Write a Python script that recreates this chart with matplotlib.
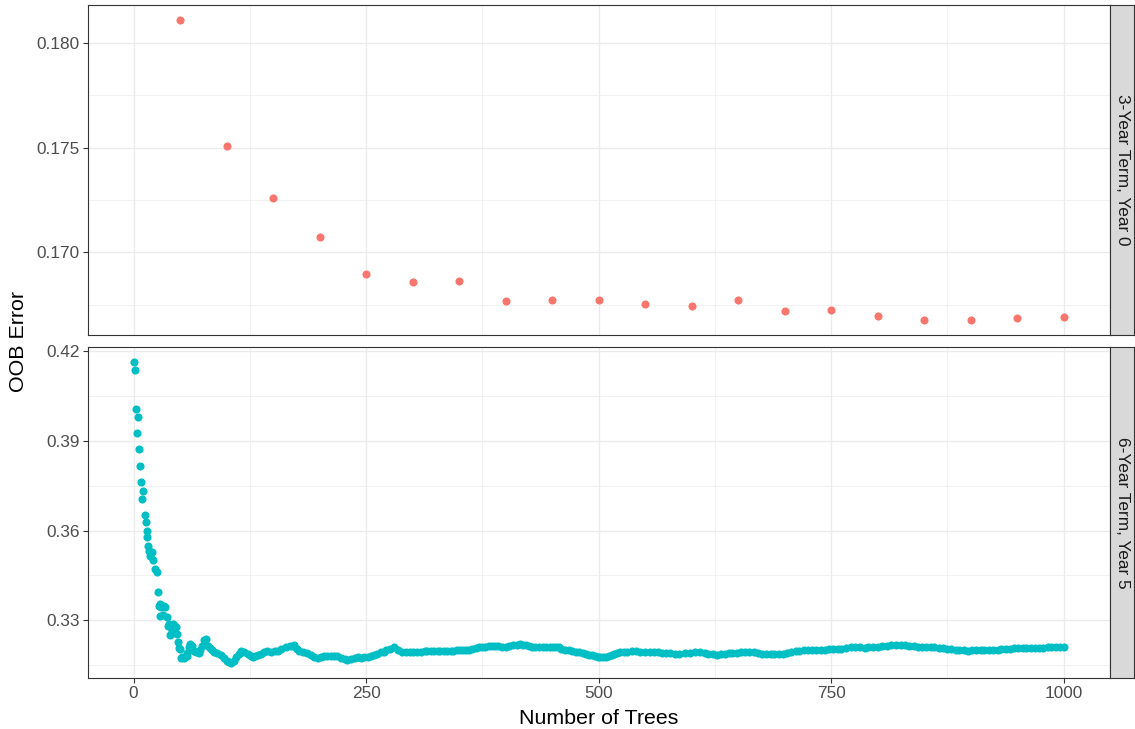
import numpy as np
import matplotlib
matplotlib.use("Agg")
import matplotlib.pyplot as plt
from matplotlib.ticker import FixedLocator, FormatStrFormatter

plt.rcParams["font.family"] = ["Liberation Sans", "DejaVu Sans"]

# OOB error, 3-year term model (every 50 trees)
trees_3yr = [50, 100, 150, 200, 250, 300, 350, 400, 450, 500,
             550, 600, 650, 700, 750, 800, 850, 900, 950, 1000]
err_3yr = [0.18110, 0.17510, 0.17257, 0.17071, 0.16895, 0.16857, 0.16862,
           0.16767, 0.16771, 0.16771, 0.16752, 0.16743, 0.16771, 0.16719,
           0.16724, 0.16695, 0.16676, 0.16676, 0.16686, 0.16690]

# OOB error, 6-year term model
trees_6yr = [1, 2, 3, 4, 5, 6, 7, 8, 9, 10, 12, 13, 14, 15, 16, 17, 18, 20,
             21, 23, 25, 26, 27, 28, 29, 30, 32, 33, 34, 36, 37, 38, 39, 40,
             41, 42, 43, 44, 46, 47, 48, 49, 50, 51, 52, 54, 57, 58, 60, 61,
             63, 65, 67, 69, 70, 72, 74, 76, 78, 80, 82, 84, 87, 90, 94, 97,
             100, 103, 105, 108, 110, 113, 116, 119, 123, 126, 128, 131, 134,
             137, 140, 144, 148, 152, 155, 159, 164, 168, 171, 173, 176, 178,
             182, 187, 191, 194, 198, 202, 205, 208, 212, 216, 219, 223, 227,
             230, 234, 238, 241, 245, 248, 252, 255, 259, 262, 266, 269, 272,
             276, 280, 284, 289, 293, 297, 301, 305, 309, 313, 316, 320, 323,
             327, 330, 334, 337, 341, 344, 348, 351, 354, 357, 361, 364, 368,
             371, 375, 378, 382, 385, 389, 392, 396, 400, 404, 408, 412, 416,
             419, 422, 425, 428, 432, 436, 440, 443, 448, 451, 454, 457, 460,
             464, 468, 472, 476, 479, 483, 486, 490, 493, 496, 499, 502, 505,
             508, 511, 514, 517, 520, 523, 527, 531, 536, 540, 545, 550, 555,
             560, 564, 568, 573, 577, 582, 587, 593, 598, 604, 609, 614, 618,
             623, 627, 632, 636, 640, 644, 649, 653, 658, 662, 667, 671, 676,
             680, 685, 689, 694, 698, 703, 707, 712, 716, 721, 725, 730, 734,
             739, 743, 748, 752, 757, 761, 766, 771, 776, 781, 786, 790, 795,
             800, 805, 810, 815, 820, 825, 830, 834, 839, 843, 848, 852, 857,
             861, 866, 870, 875, 879, 884, 888, 893, 897, 902, 906, 911, 915,
             920, 924, 929, 933, 938, 942, 947, 951, 956, 960, 965, 969, 974,
             978, 983, 987, 992, 996, 1000]
err_6yr = [0.4164, 0.4137, 0.4006, 0.3926, 0.3981, 0.3872, 0.3817, 0.3764,
           0.3707, 0.3734, 0.3651, 0.3629, 0.3598, 0.3578, 0.3548, 0.3531,
           0.3514, 0.3529, 0.3500, 0.3470, 0.3462, 0.3396, 0.3346, 0.3353,
           0.3314, 0.3345, 0.3317, 0.3346, 0.3345, 0.3312, 0.3280, 0.3289,
           0.3249, 0.3253, 0.3267, 0.3287, 0.3284, 0.3270, 0.3278, 0.3254,
           0.3228, 0.3206, 0.3203, 0.3172, 0.3176, 0.3172, 0.3179, 0.3189,
           0.3210, 0.3220, 0.3213, 0.3198, 0.3195, 0.3192, 0.3189, 0.3200,
           0.3213, 0.3234, 0.3237, 0.3214, 0.3206, 0.3200, 0.3195, 0.3190,
           0.3183, 0.3175, 0.3165, 0.3161, 0.3157, 0.3165, 0.3176, 0.3187,
           0.3198, 0.3194, 0.3187, 0.3180, 0.3176, 0.3180, 0.3184, 0.3187,
           0.3192, 0.3198, 0.3192, 0.3196, 0.3198, 0.3203, 0.3209, 0.3213,
           0.3215, 0.3217, 0.3205, 0.3198, 0.3195, 0.3190, 0.3183, 0.3177,
           0.3172, 0.3176, 0.3179, 0.3181, 0.3180, 0.3180, 0.3179, 0.3175,
           0.3171, 0.3168, 0.3171, 0.3174, 0.3176, 0.3175, 0.3176, 0.3176,
           0.3179, 0.3183, 0.3187, 0.3192, 0.3195, 0.3199, 0.3205, 0.3211,
           0.3202, 0.3192, 0.3193, 0.3193, 0.3194, 0.3195, 0.3195, 0.3196,
           0.3196, 0.3197, 0.3197, 0.3198, 0.3198, 0.3198, 0.3198, 0.3198,
           0.3198, 0.3199, 0.3200, 0.3200, 0.3200, 0.3202, 0.3204, 0.3207,
           0.3209, 0.3211, 0.3212, 0.3213, 0.3214, 0.3214, 0.3213, 0.3212,
           0.3212, 0.3214, 0.3216, 0.3218, 0.3220, 0.3218, 0.3216, 0.3214,
           0.3212, 0.3211, 0.3210, 0.3209, 0.3209, 0.3211, 0.3212, 0.3212,
           0.3209, 0.3205, 0.3201, 0.3199, 0.3197, 0.3195, 0.3194, 0.3191,
           0.3188, 0.3185, 0.3183, 0.3180, 0.3178, 0.3176, 0.3177, 0.3178,
           0.3179, 0.3183, 0.3187, 0.3190, 0.3192, 0.3194, 0.3195, 0.3196,
           0.3196, 0.3195, 0.3194, 0.3193, 0.3193, 0.3192, 0.3191, 0.3190,
           0.3189, 0.3188, 0.3187, 0.3189, 0.3191, 0.3192, 0.3192, 0.3190,
           0.3188, 0.3186, 0.3184, 0.3186, 0.3187, 0.3189, 0.3190, 0.3191,
           0.3192, 0.3193, 0.3194, 0.3192, 0.3190, 0.3188, 0.3187, 0.3187,
           0.3187, 0.3187, 0.3187, 0.3190, 0.3193, 0.3196, 0.3198, 0.3199,
           0.3200, 0.3201, 0.3201, 0.3202, 0.3202, 0.3203, 0.3203, 0.3204,
           0.3205, 0.3207, 0.3209, 0.3211, 0.3209, 0.3208, 0.3209, 0.3211,
           0.3212, 0.3213, 0.3215, 0.3216, 0.3217, 0.3217, 0.3216, 0.3214,
           0.3213, 0.3212, 0.3211, 0.3210, 0.3209, 0.3209, 0.3207, 0.3206,
           0.3204, 0.3203, 0.3201, 0.3200, 0.3199, 0.3198, 0.3199, 0.3199,
           0.3200, 0.3200, 0.3201, 0.3201, 0.3202, 0.3203, 0.3204, 0.3205,
           0.3206, 0.3207, 0.3207, 0.3207, 0.3207, 0.3207, 0.3208, 0.3208,
           0.3209, 0.3209, 0.3209, 0.3209, 0.3209]

panels = [
    ("3-Year Term, Year 0", trees_3yr, err_3yr, "#F8766D",
     [0.170, 0.175, 0.180], [0.1675, 0.1725, 0.1775], "%.3f"),
    ("6-Year Term, Year 5", trees_6yr, err_6yr, "#00BFC4",
     [0.33, 0.36, 0.39, 0.42], [0.315, 0.345, 0.375, 0.405], "%.2f"),
]

x_breaks = [0, 250, 500, 750, 1000]
x_minor = [125, 375, 625, 875]

W, H = 1135, 729
fig = plt.figure(figsize=(W / 100, H / 100), dpi=100)

left, right = 88, 1110
strip_w = 24
boxes = [(5, 335), (347, 678)]

all_x = trees_3yr + trees_6yr
xlo, xhi = min(all_x), max(all_x)
xpad = (xhi - xlo) * 0.05

border = "#333333"
for i, ((label, xs, ys, col, brk, mnr, fmt), (top, bot)) in enumerate(zip(panels, boxes)):
    ax = fig.add_axes([left / W, 1 - bot / H, (right - left) / W, (bot - top) / H])
    ax.scatter(xs, ys, s=34, color=col, linewidths=0, zorder=3)
    ax.set_xlim(xlo - xpad, xhi + xpad)
    ypad = (max(ys) - min(ys)) * 0.05
    ax.set_ylim(min(ys) - ypad, max(ys) + ypad)

    ax.yaxis.set_major_locator(FixedLocator(brk))
    ax.yaxis.set_minor_locator(FixedLocator(mnr))
    ax.yaxis.set_major_formatter(FormatStrFormatter(fmt))
    ax.xaxis.set_major_locator(FixedLocator(x_breaks))
    ax.xaxis.set_minor_locator(FixedLocator(x_minor))

    ax.grid(which="major", color="#EBEBEB", linewidth=1.0, zorder=0)
    ax.grid(which="minor", color="#EBEBEB", linewidth=0.5, zorder=0)
    ax.set_axisbelow(True)
    for s in ax.spines.values():
        s.set_color(border)
        s.set_linewidth(0.8)

    ax.tick_params(which="major", length=3.5, width=0.8, color=border,
                   labelsize=12.4, labelcolor="#4D4D4D", pad=2.5)
    ax.tick_params(which="minor", length=0)
    if i == 0:
        ax.tick_params(axis="x", which="major", length=0, labelbottom=False)

    # facet strip on the right
    sax = fig.add_axes([right / W, 1 - bot / H, strip_w / W, (bot - top) / H])
    sax.set_facecolor("#D9D9D9")
    sax.set_xticks([])
    sax.set_yticks([])
    for s in sax.spines.values():
        s.set_color(border)
        s.set_linewidth(0.8)
    sax.text(0.5, 0.5, label, rotation=270, ha="center", va="center",
             fontsize=12.4, color="#1A1A1A", transform=sax.transAxes)

fig.text(19 / W, 1 - 342 / H, "OOB Error", rotation=90, ha="center",
         va="center", fontsize=15.4)
fig.text((left + right) / 2 / W, 1 - 718 / H, "Number of Trees", ha="center",
         va="center", fontsize=15.4)

fig.savefig("out.png", dpi=100)
